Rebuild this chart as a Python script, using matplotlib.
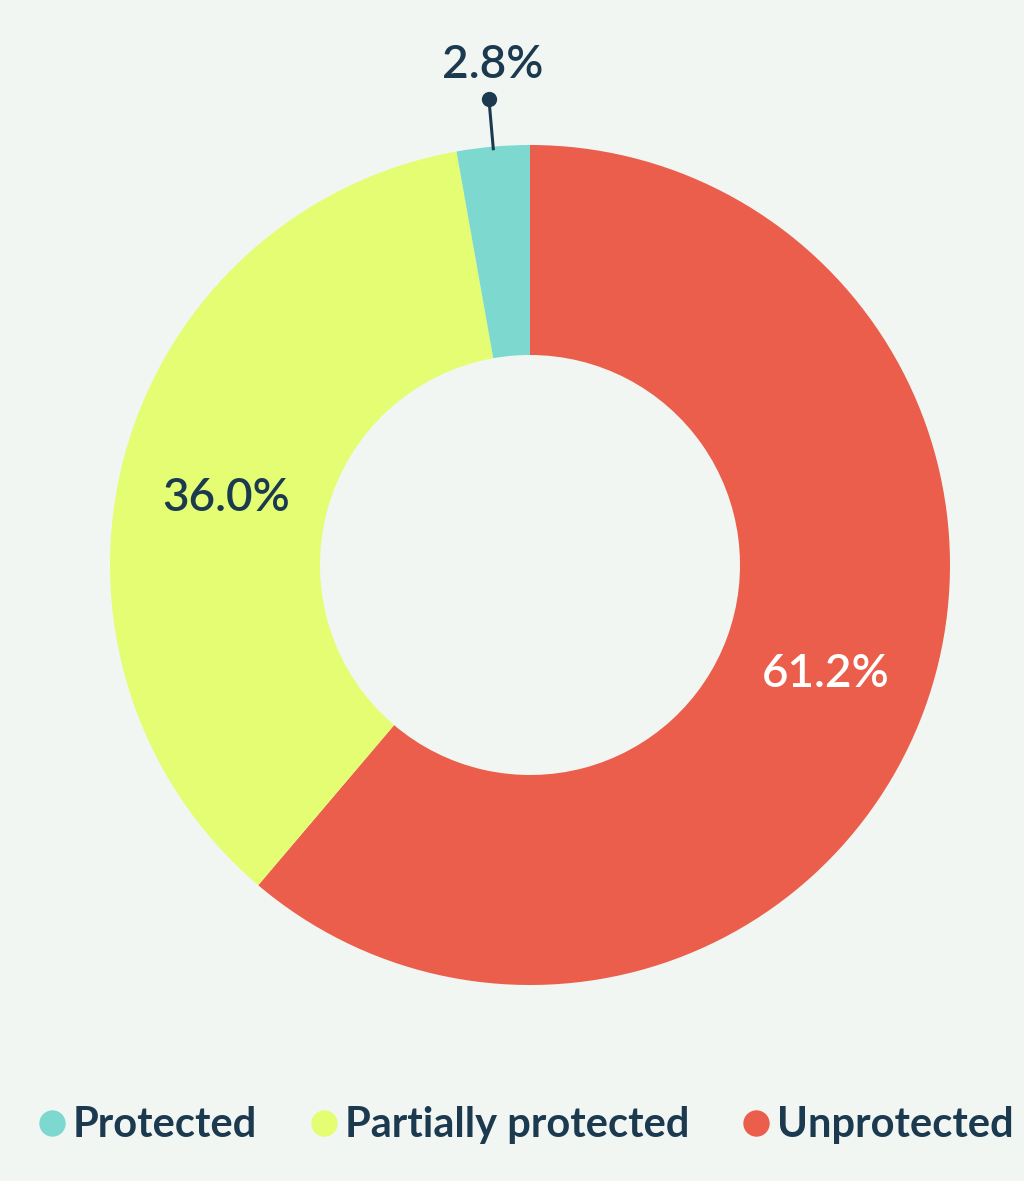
import numpy as np
import matplotlib.pyplot as plt
from matplotlib.lines import Line2D

# data (clockwise from 12 o'clock)
labels = ["Unprotected", "Partially protected", "Protected"]
values = [61.2, 36.0, 2.8]
colors = ["#EA5E4B", "#E4FD72", "#7DD9D0"]
legend_order = ["Protected", "Partially protected", "Unprotected"]

bg = "#F2F6F3"
ink = "#1B3A4F"

plt.rcParams['font.family'] = ['Lato', 'DejaVu Sans']

fig = plt.figure(figsize=(10.24, 11.81), dpi=100, facecolor=bg)
ax = fig.add_axes([0, 0, 1, 1])
ax.set_facecolor(bg)

wedges, _ = ax.pie(values, colors=colors, startangle=90, counterclock=False,
                   radius=1.0, wedgeprops=dict(width=0.5, linewidth=0))

# small nudges (in radius units) so labels sit where the original has them
nudge = {"Unprotected": (0.0, 0.0), "Partially protected": (0.0, -0.035)}

# labels inside the ring for the two big slices, leader for the small one
for w, v, lab in zip(wedges, values, labels):
    ang = np.deg2rad((w.theta1 + w.theta2) / 2)
    txt = f"{v:.1f}%"
    if v > 10:
        c = "white" if lab == "Unprotected" else ink
        dx, dy = nudge[lab]
        ax.text(0.75 * np.cos(ang) + dx, 0.75 * np.sin(ang) + dy, txt,
                ha='center', va='center', fontsize=33, color=c,
                fontweight='semibold')
    else:
        x0, y0 = 0.995 * np.cos(ang), 0.995 * np.sin(ang)
        x1, y1 = 1.115 * np.cos(ang), 1.115 * np.sin(ang)
        ax.plot([x0, x1], [y0, y1], color=ink, lw=2.2)
        ax.plot([x1], [y1], 'o', color=ink, ms=10)
        ax.text(x1 + 0.008, y1 + 0.08, txt, ha='center', va='center',
                fontsize=33, color=ink, fontweight='semibold')

ax.set_xlim(-530 / 420, (1024 - 530) / 420)
ax.set_ylim(-(1181 - 565) / 420, 565 / 420)
ax.set_aspect('equal')
ax.axis('off')

cmap = dict(zip(labels, colors))
handles = [Line2D([], [], marker='o', linestyle='', markersize=19,
                  markerfacecolor=cmap[n], markeredgecolor='none', label=n)
           for n in legend_order]
leg = fig.legend(handles=handles, loc='center', bbox_to_anchor=(0.51, 0.047),
                 ncol=3, frameon=False, handletextpad=0.0, columnspacing=1.1,
                 handlelength=1.0, prop=dict(size=30, weight='bold'))
for t in leg.get_texts():
    t.set_color(ink)

fig.savefig("out.png", dpi=100, facecolor=bg)
